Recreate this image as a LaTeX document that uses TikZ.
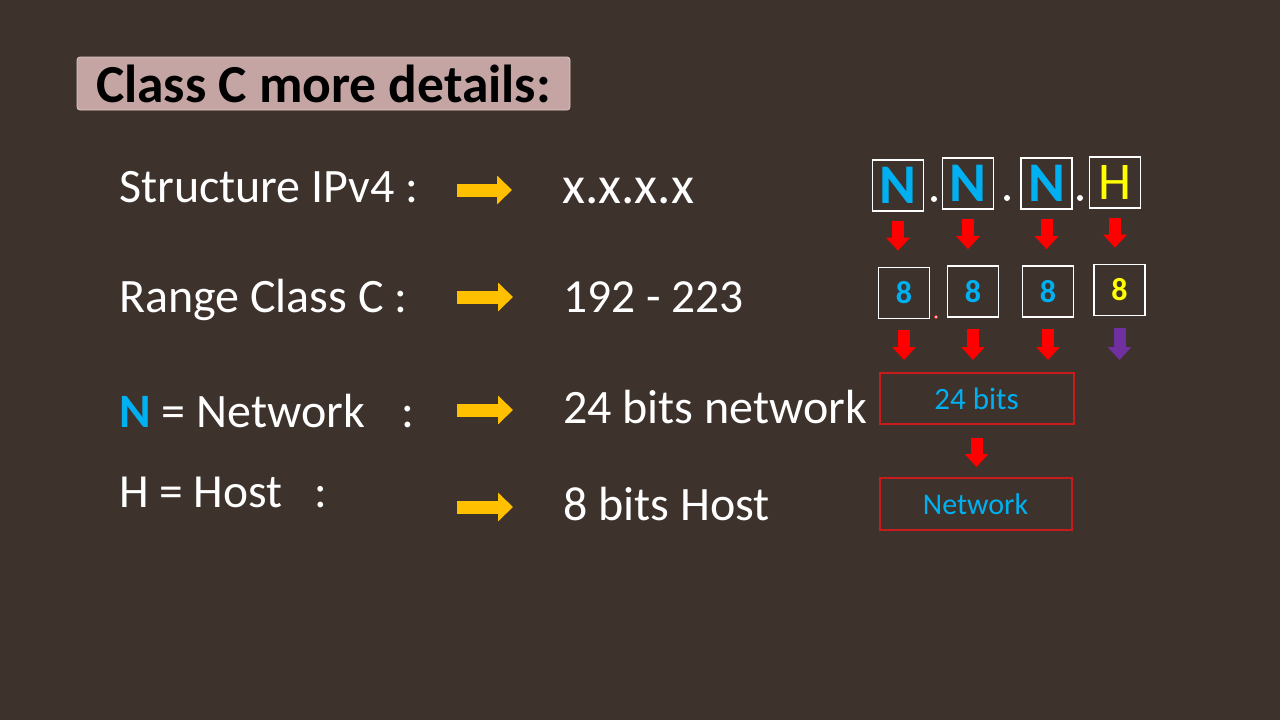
\documentclass[tikz,border=0pt]{standalone}
\usepackage{fontspec}
\setmainfont{Carlito}
\usetikzlibrary{arrows.meta}

\definecolor{bgcol}{RGB}{62,50,44}
\definecolor{titlecol}{RGB}{196,165,163}
\definecolor{nblue}{RGB}{0,176,240}
\definecolor{hyellow}{RGB}{255,255,0}
\definecolor{arryellow}{RGB}{255,192,0}
\definecolor{arrpurple}{RGB}{112,48,160}
\definecolor{boxred}{RGB}{200,28,28}

\newcommand{\fs}[1]{\fontsize{#1}{#1}\selectfont}

\tikzset{
  txt/.style={anchor=base west, inner sep=0pt, text=white, font=\fs{48}},
  letterbox/.style={draw=white, line width=1.6pt, minimum size=51pt, inner sep=0pt},
  bitbox/.style={draw=boxred, line width=2pt, minimum width=194pt, minimum height=51pt,
                 inner sep=0pt, text=nblue, font=\fs{31}},
  yarrow/.style={arryellow, line width=13pt, -{Triangle[length=15pt,width=28pt]}},
  redarrow/.style={red, line width=12pt, -{Triangle[length=13pt,width=23pt]}},
  purparrow/.style={arrpurple, line width=12pt, -{Triangle[length=13pt,width=23pt]}}
}

\begin{document}
\begin{tikzpicture}[x=1pt, y=-1pt]

    \useasboundingbox (0,0) rectangle (1280,720);
    \fill[bgcol] (0,0) rectangle (1280,720);

% Title

    \node[fill=titlecol, draw=titlecol!60!white, line width=0.8pt, rounded corners=3pt,
          minimum width=493pt, minimum height=53pt, inner sep=0pt,
          font=\bfseries\fs{53.5}] (title) at (323.5,83.5) {Class C more details:};

% Left column

    \node[txt] (lab1) at (119,202) {Structure IPv4 :};
    \node[txt] (lab2) at (119,312) {Range Class C :};
    \node[txt] (lab3) at (119,427) {{\bfseries\color{nblue}N} = Network\hspace{37pt}:};
    \node[txt, font=\fs{47.5}] (lab4) at (119,507) {H = Host\hspace{32pt}:};

% Values

    \node[txt, font=\fs{53}] (v1) at (562,203) {x.x.x.x};
    \node[txt, font=\fs{47.5}] (v2) at (563,312) {192 - 223};
    \node[txt] (v3) at (563,423) {24 bits network};
    \node[txt] (v4) at (563,520) {8 bits Host};

% Yellow arrows

    \coordinate (ya1) at (457,190);
    \coordinate (ya2) at (457,297);
    \coordinate (ya3) at (457,410);
    \coordinate (ya4) at (457,507);
    \foreach \i in {1,...,4}
        \draw[yarrow, shorten >=50pt] (ya\i) -- (ya\i -| v\i.west);

% N.N.N.H

    \node[letterbox, text=nblue, font=\bfseries\fs{56}] (n1) at (898,185.5) {N};
    \node[letterbox, text=nblue, font=\bfseries\fs{56}] (n2) at (968,183.5) {N};
    \node[letterbox, text=nblue, font=\bfseries\fs{56}] (n3) at (1046.5,183.5) {N};
    \node[letterbox, text=hyellow, font=\fs{53}] (n4) at (1115,182.5) {H};

    \fill[white] (934,199) circle (3pt);
    \fill[white] (1007,198) circle (3pt);
    \fill[white] (1080,198) circle (3pt);

% 8 bits each

    \node[letterbox, text=nblue, font=\bfseries\fs{32}] (e1) at (904,293) {8};
    \node[letterbox, text=nblue, font=\bfseries\fs{32}] (e2) at (973,291.5) {8};
    \node[letterbox, text=nblue, font=\bfseries\fs{32}] (e3) at (1048,291.5) {8};
    \node[letterbox, text=hyellow, font=\bfseries\fs{32}] (e4) at (1119.5,290) {8};

    \filldraw[draw=red, fill=white, line width=0.6pt] (936,317) circle (1.8pt);

% Network boxes

    \node[bitbox] (bits) at (976.5,398.5) {24 bits};
    \node[bitbox, minimum width=192pt, minimum height=52pt, font=\fs{30}] (net) at (975.5,504) {Network};

% Red arrows

    \foreach \i in {1,...,4}
        \draw[redarrow, shorten <=9pt, shorten >=16pt] (n\i.south) -- (n\i.south |- e\i.north);
    \foreach \i in {1,...,3}
        \draw[redarrow, shorten <=11pt, shorten >=12pt] (e\i.south) -- (e\i.south |- bits.north);
    \draw[purparrow, shorten <=12pt, shorten >=12pt] (e4.south) -- (e4.south |- bits.north);
    \draw[redarrow, shorten <=13pt, shorten >=10pt] (bits.south) -- (bits.south |- net.north);

\end{tikzpicture}
\end{document}
